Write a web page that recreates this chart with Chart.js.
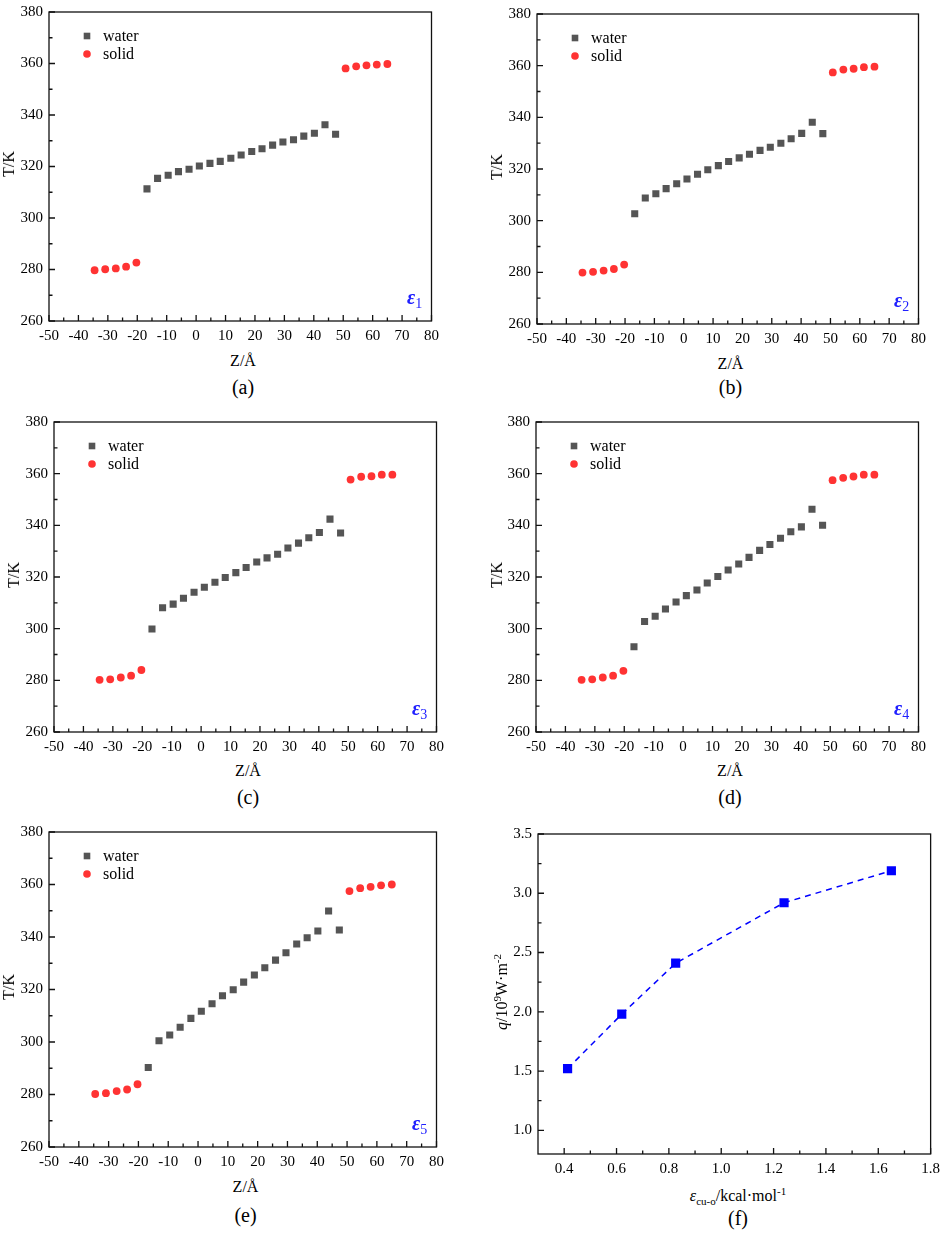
<!DOCTYPE html>
<html lang="en">
<head>
<meta charset="UTF-8">
<title>Temperature profiles and heat flux</title>
<style>
  body { margin: 0; background: #fff; color: #000; font-family: "Liberation Serif", "Times New Roman", serif; }
  #page { position: relative; width: 948px; height: 1233px; overflow: hidden; }
  canvas { position: absolute; }
  .lbl { position: absolute; transform: translate(-50%, -50%); white-space: nowrap; font-size: 16px; line-height: 1; }
  .ylbl { transform: translate(-50%, -50%) rotate(-90deg); }
  .cap { font-size: 20px; }
  .eps { position: absolute; color: #2020ff; font-size: 20px; white-space: nowrap; line-height: 1; }
  .eps b { font-style: italic; }
  .eps sub { font-size: 14px; font-weight: normal; vertical-align: -4px; line-height: 0; }
  .lbl sup, .lbl sub { font-size: 11px; line-height: 0; }
</style>
</head>
<body>
<div id="page"></div>

<script src="https://cdn.jsdelivr.net/npm/chart.js"></script>
<script>
    // positions along Z (same grid in every panel)
    const waterZ = [-16.7, -13.1, -9.5, -6.0, -2.4, 1.1, 4.7, 8.2, 11.8, 15.3, 18.9, 22.4, 26.0, 29.5, 33.1, 36.6, 40.2, 43.8, 47.4];
    const solidZ = [-34.5, -30.9, -27.3, -23.8, -20.3, 50.8, 54.4, 57.9, 61.4, 65.0];

    // temperatures, one pair per epsilon
    const waterT1 = [311.3, 315.4, 316.6, 318.0, 318.9, 320.2, 321.2, 322.0, 323.2, 324.5, 325.8, 326.9, 328.3, 329.5, 330.4, 331.8, 332.9, 336.2, 332.5];
    const solidT1 = [279.7, 280.1, 280.4, 281.1, 282.7, 358.1, 358.9, 359.3, 359.6, 359.8];
    const waterT2 = [302.7, 308.8, 310.4, 312.4, 314.3, 316.1, 318.0, 319.7, 321.3, 322.9, 324.3, 325.7, 327.2, 328.4, 330.0, 331.7, 333.8, 338.1, 333.7];
    const solidT2 = [279.9, 280.2, 280.7, 281.3, 283.0, 357.4, 358.5, 358.8, 359.4, 359.6];
    const waterT3 = [299.9, 308.1, 309.5, 311.8, 314.1, 316.0, 318.0, 319.8, 321.7, 323.7, 325.8, 327.4, 328.8, 331.2, 333.1, 335.2, 337.2, 342.4, 337.0];
    const solidT3 = [280.2, 280.4, 281.1, 281.8, 284.0, 357.7, 358.8, 359.0, 359.6, 359.6];
    const waterT4 = [293.0, 302.8, 304.8, 307.6, 310.3, 312.8, 315.0, 317.7, 320.2, 322.7, 325.0, 327.6, 330.3, 332.6, 335.0, 337.5, 339.4, 346.2, 340.0];
    const solidT4 = [280.2, 280.4, 281.1, 281.8, 283.7, 357.5, 358.4, 358.9, 359.6, 359.6];
    const waterT5 = [290.3, 300.5, 302.7, 305.6, 309.0, 311.7, 314.6, 317.6, 319.9, 322.8, 325.5, 328.3, 331.2, 334.0, 337.3, 339.7, 342.3, 349.9, 342.7];
    const solidT5 = [280.2, 280.5, 281.3, 281.9, 283.9, 357.5, 358.6, 359.1, 359.7, 360.0];

    // panel (f)
    const epsCuO = [0.413, 0.62, 0.826, 1.24, 1.65];
    const heatFlux = [1.52, 1.98, 2.41, 2.92, 3.19];

    // tick labels
    const zTicks = [-50, -40, -30, -20, -10, 0, 10, 20, 30, 40, 50, 60, 70, 80];
    const tTicks = [260, 280, 300, 320, 340, 360, 380];
    const epsTicks = [0.4, 0.6, 0.8, 1.0, 1.2, 1.4, 1.6, 1.8];
    const qTicks = [1.0, 1.5, 2.0, 2.5, 3.0, 3.5];

    const FONT = '"Liberation Serif"';
    const page = document.getElementById('page');
    const padL = 52, padT = 10, padR = 8, padB = 30;

    // Origin-style frame with inward major/minor ticks
    const framePlugin = {
        id: 'frame',
        afterDraw(chart) {
            const {ctx, chartArea: a, scales: {x, y}} = chart;
            ctx.save();
            ctx.strokeStyle = '#111';
            ctx.lineWidth = 1.3;
            ctx.strokeRect(a.left, a.top, a.right - a.left, a.bottom - a.top);
            ctx.beginPath();
            const xt = x.ticks.map(t => t.value);
            const yt = y.ticks.map(t => t.value);
            xt.forEach((v, i) => {
                const px = x.getPixelForValue(v);
                ctx.moveTo(px, a.bottom); ctx.lineTo(px, a.bottom - 6);
                if (i > 0) {
                    const mx = x.getPixelForValue((v + xt[i - 1]) / 2);
                    ctx.moveTo(mx, a.bottom); ctx.lineTo(mx, a.bottom - 3.5);
                }
            });
            yt.forEach((v, i) => {
                const py = y.getPixelForValue(v);
                ctx.moveTo(a.left, py); ctx.lineTo(a.left + 6, py);
                if (i > 0) {
                    const my = y.getPixelForValue((v + yt[i - 1]) / 2);
                    ctx.moveTo(a.left, my); ctx.lineTo(a.left + 3.5, my);
                }
            });
            ctx.stroke();
            ctx.restore();
        }
    };

    // legend in the upper left corner of the plot
    const insetLegend = {
        id: 'insetLegend',
        afterDatasetsDraw(chart) {
            if (!chart.options.plugins.insetLegend.show) return;
            const {ctx, chartArea: a} = chart;
            ctx.save();
            chart.data.datasets.forEach((ds, i) => {
                const cx = a.left + 38, cy = a.top + 24 + i * 18;
                ctx.fillStyle = ds.pointBackgroundColor;
                if (ds.pointStyle === 'rect') {
                    ctx.fillRect(cx - 3.3, cy - 3.3, 6.6, 6.6);
                } else {
                    ctx.beginPath();
                    ctx.arc(cx, cy, 3.8, 0, Math.PI * 2);
                    ctx.fill();
                }
                ctx.fillStyle = '#000';
                ctx.font = '16px ' + FONT;
                ctx.textBaseline = 'middle';
                ctx.fillText(ds.label, a.left + 54, cy + 1);
            });
            ctx.restore();
        }
    };

    function axis(min, max, ticks, fmt, isX) {
        return {
            type: 'linear', min: min, max: max,
            afterBuildTicks: s => { s.ticks = ticks.map(v => ({value: v})); },
            afterFit: s => { if (isX) s.height = padB; else s.width = padL; },
            grid: {display: false, drawTicks: false},
            border: {display: false},
            ticks: {
                padding: 6, color: '#000', autoSkip: false, maxRotation: 0,
                font: {family: FONT, size: 15},
                callback: fmt
            }
        };
    }

    function addText(html, x, y, cls) {
        const d = document.createElement('div');
        d.className = cls;
        d.innerHTML = html;
        d.style.left = x + 'px';
        d.style.top = y + 'px';
        page.appendChild(d);
    }

    function makeChart(box, datasets, scales, legend) {
        const [L, T, R, B] = box;
        const c = document.createElement('canvas');
        const w = R - L + padL + padR, h = B - T + padT + padB;
        c.width = w; c.height = h;
        c.style.width = w + 'px'; c.style.height = h + 'px';
        c.style.left = (L - padL) + 'px';
        c.style.top = (T - padT) + 'px';
        page.appendChild(c);
        new Chart(c, {
            type: 'scatter',
            data: {datasets: datasets},
            options: {
                responsive: false,
                animation: false,
                layout: {padding: {left: 0, top: padT, right: padR, bottom: 0}},
                plugins: {legend: {display: false}, tooltip: {enabled: false}, insetLegend: {show: legend}},
                scales: scales
            },
            plugins: [framePlugin, insetLegend]
        });
    }

    const panels = [
        {box: [49, 7, 437, 321],   water: waterT1, solid: solidT1, n: '1', cap: '(a)', titleY: 361, capY: 387, yTitleX: 9},
        {box: [537, 9, 924, 324],  water: waterT2, solid: solidT2, n: '2', cap: '(b)', titleY: 364, capY: 387, yTitleX: 497},
        {box: [54, 417, 442, 732], water: waterT3, solid: solidT3, n: '3', cap: '(c)', titleY: 771, capY: 797, yTitleX: 14},
        {box: [536, 417, 924, 732], water: waterT4, solid: solidT4, n: '4', cap: '(d)', titleY: 771, capY: 797, yTitleX: 497},
        {box: [49, 827, 442, 1147], water: waterT5, solid: solidT5, n: '5', cap: '(e)', titleY: 1187, capY: 1215, yTitleX: 9}
    ];

    function drawAll() {
        panels.forEach(p => {
            const datasets = [
                {
                    label: 'water',
                    data: waterZ.map((z, i) => ({x: z, y: p.water[i]})),
                    pointStyle: 'rect', pointRadius: 5, pointBorderWidth: 0,
                    pointBackgroundColor: '#555555', borderColor: '#555555', showLine: false
                },
                {
                    label: 'solid',
                    data: solidZ.map((z, i) => ({x: z, y: p.solid[i]})),
                    pointStyle: 'circle', pointRadius: 3.9, pointBorderWidth: 0,
                    pointBackgroundColor: '#ff3333', borderColor: '#ff3333', showLine: false
                }
            ];
            makeChart(p.box, datasets, {
                x: axis(-50, 80, zTicks, v => v, true),
                y: axis(260, 380, tTicks, v => v, false)
            }, true);

            const [L, T, R, B] = p.box;
            const cx = (L + R) / 2;
            addText('Z/Å', cx, p.titleY, 'lbl');
            addText(p.cap, cx, p.capY, 'lbl cap');
            addText('T/K', p.yTitleX, (T + B) / 2, 'lbl ylbl');
            const e = document.createElement('div');
            e.className = 'eps';
            e.innerHTML = '<b>ε</b><sub>' + p.n + '</sub>';
            e.style.left = (R - 30) + 'px';
            e.style.top = (B - 34) + 'px';
            page.appendChild(e);
        });

        // panel (f): heat flux against interaction strength
        const boxF = [538, 829, 938, 1154];
        makeChart(boxF, [{
            label: 'q',
            data: epsCuO.map((v, i) => ({x: v, y: heatFlux[i]})),
            showLine: true, borderColor: '#0000ff', borderWidth: 1.5, borderDash: [6, 5],
            pointStyle: 'rect', pointRadius: 6.5, pointBorderWidth: 0,
            pointBackgroundColor: '#0000ff'
        }], {
            x: axis(0.3, 1.8, epsTicks, v => v.toFixed(1), true),
            y: axis(0.8, 3.5, qTicks, v => v.toFixed(1), false)
        }, false);

        addText('<i>ε</i><sub>cu-o</sub>/kcal·mol<sup>-1</sup>', 738, 1196, 'lbl');
        addText('(f)', 738, 1218, 'lbl cap');
        addText('<i>q</i>/10<sup>9</sup>W·m<sup>-2</sup>', 502, 992, 'lbl ylbl');
    }

    // the serif face has to be ready before the canvases paint
    document.fonts.load('16px "Liberation Serif"').then(drawAll, drawAll);
</script>
</body>
</html>
